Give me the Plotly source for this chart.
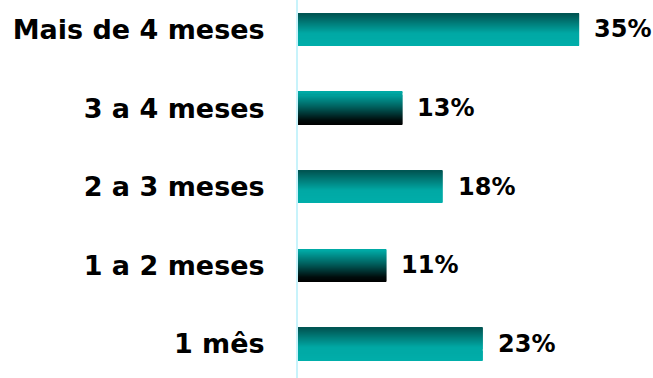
import plotly.graph_objects as go

categories = ["1 mês", "1 a 2 meses", "2 a 3 meses", "3 a 4 meses", "Mais de 4 meses"]
values = [23, 11, 18, 13, 35]
styles = ["teal", "dark", "teal", "dark", "teal"]
value_labels = ["23%", "11%", "18%", "13%", "35%"]

# gradient stops (t=0 top of bar, t=1 bottom)
grad = {
    "teal": [(0.0, (0, 84, 82)), (0.6, (0, 168, 164)), (1.0, (0, 174, 170))],
    "dark": [(0.0, (0, 172, 168)), (0.45, (0, 92, 90)), (0.85, (0, 12, 12)), (1.0, (0, 0, 0))],
}


def color_at(style, t):
    stops = grad[style]
    for (t0, c0), (t1, c1) in zip(stops[:-1], stops[1:]):
        if t0 <= t <= t1:
            f = (t - t0) / (t1 - t0) if t1 > t0 else 0
            c = [round(a + (b - a) * f) for a, b in zip(c0, c1)]
            return f"rgb({c[0]},{c[1]},{c[2]})"
    c = stops[-1][1]
    return f"rgb({c[0]},{c[1]},{c[2]})"


BAR_W = 0.41
N = 32
step = BAR_W / N

fig = go.Figure()
for k in range(N):
    # k=0 is bottom strip
    t = 1 - (k + 0.5) / N
    fig.add_trace(go.Bar(
        y=categories, x=values, orientation="h",
        width=step * 1.15, offset=-BAR_W / 2 + k * step,
        marker=dict(color=[color_at(s, t) for s in styles], line=dict(width=0)),
        hoverinfo="skip", showlegend=False,
    ))

for c, v, lab in zip(categories, values, value_labels):
    fig.add_annotation(x=v, y=c, text=lab, xanchor="left", yanchor="middle",
                       xshift=13, showarrow=False,
                       font=dict(family="DejaVu Sans", size=24, color="black", weight="bold"))

fig.update_layout(
    width=653, height=378, barmode="overlay",
    margin=dict(l=298, r=0, t=0, b=0),
    plot_bgcolor="white", paper_bgcolor="white",
    xaxis=dict(range=[0, 44.2], visible=False, fixedrange=True),
    yaxis=dict(type="category", categoryorder="array", categoryarray=categories,
               range=[-0.433, 4.375], showgrid=False, zeroline=False,
               showline=True, linecolor="#c8f3fb", linewidth=2,
               ticks="", ticklabelstandoff=26,
               tickfont=dict(family="DejaVu Sans", size=27, color="black", weight="bold")),
)

fig.write_html("out.html")
